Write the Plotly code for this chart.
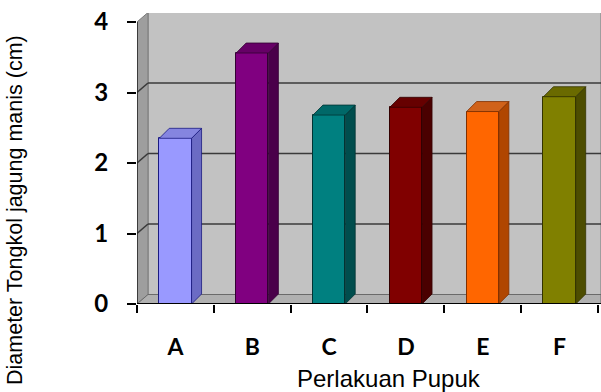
import plotly.graph_objects as go

categories = ["A", "B", "C", "D", "E", "F"]
values = [2.35, 3.56, 2.68, 2.79, 2.73, 2.94]
front_colors = ["#9999FF", "#800080", "#008080", "#800000", "#FF6600", "#808000"]
side_colors = ["#6b6bc4", "#4a004a", "#004d4d", "#4a0000", "#b04600", "#4d4d00"]
top_colors = ["#8585e0", "#660066", "#006868", "#660000", "#d0621a", "#6a6a00"]
edge_colors = ["#1a1a80", "#330033", "#003333", "#330000", "#803000", "#333300"]
y_ticks = [0, 1, 2, 3, 4]

# geometry (data units)
px_x = 76.83  # pixels per category
px_y = 70.5   # pixels per value unit
x_lo = -0.5
x_hi = -0.5 + 464 / px_x
y_hi = 291 / px_y
wdx, wdy = 11 / px_x, 9.5 / px_y      # wall depth
bdx, bdy = 10 / px_x, 10 / px_y       # bar depth
bw = 0.42

xs = list(range(len(categories)))

fig = go.Figure()

# front faces
fig.add_trace(go.Bar(
    x=xs, y=values, width=bw,
    marker=dict(color=front_colors, line=dict(color=edge_colors, width=1)),
    hoverinfo="skip", showlegend=False,
))

# side and top faces
for i, v in enumerate(values):
    r = i + bw / 2
    l = i - bw / 2
    fig.add_trace(go.Scatter(
        x=[r, r + bdx, r + bdx, r, r], y=[0, bdy, v + bdy, v, 0],
        fill="toself", fillcolor=side_colors[i], mode="lines",
        line=dict(color=edge_colors[i], width=0.8), hoverinfo="skip", showlegend=False))
    fig.add_trace(go.Scatter(
        x=[l, l + bdx, r + bdx, r, l], y=[v, v + bdy, v + bdy, v, v],
        fill="toself", fillcolor=top_colors[i], mode="lines",
        line=dict(color=edge_colors[i], width=0.8), hoverinfo="skip", showlegend=False))

# dummy trace for boundary tick axis
fig.add_trace(go.Scatter(x=[], y=[], xaxis="x2", showlegend=False))

shapes = []
# back wall
shapes.append(dict(type="path", layer="below", xref="x", yref="y",
                   path=f"M{x_lo + wdx},{wdy} L{x_hi},{wdy} L{x_hi},{4 + wdy} L{x_lo + wdx},{4 + wdy} Z",
                   fillcolor="#c2c2c2", line=dict(color="#7a7a7a", width=1)))
# left wall
shapes.append(dict(type="path", layer="below", xref="x", yref="y",
                   path=f"M{x_lo},0 L{x_lo + wdx},{wdy} L{x_lo + wdx},{4 + wdy} L{x_lo},4 Z",
                   fillcolor="#9e9e9e", line=dict(color="#7a7a7a", width=1)))
# floor
shapes.append(dict(type="path", layer="below", xref="x", yref="y",
                   path=f"M{x_lo},0 L{x_lo + wdx},{wdy} L{x_hi},{wdy} L{x_hi},0 Z",
                   fillcolor="#b0b0b0", line=dict(color="#6a6a6a", width=1)))
# gridlines
for t in y_ticks[1:-1]:
    shapes.append(dict(type="line", layer="below", xref="x", yref="y",
                       x0=x_lo + wdx, y0=t + wdy, x1=x_hi, y1=t + wdy,
                       line=dict(color="#3a3a3a", width=1.6)))
    shapes.append(dict(type="line", layer="below", xref="x", yref="y",
                       x0=x_lo, y0=t, x1=x_lo + wdx, y1=t + wdy,
                       line=dict(color="#3a3a3a", width=1.6)))
# front axis lines
shapes.append(dict(type="line", layer="above", xref="x", yref="y",
                   x0=x_lo, y0=0, x1=x_lo, y1=4, line=dict(color="#202020", width=1.5)))
shapes.append(dict(type="line", layer="above", xref="x", yref="y",
                   x0=x_lo, y0=0, x1=x_hi, y1=0, line=dict(color="#000000", width=2)))

x_tick_font = dict(family="Lato", size=23, color="#000000", weight="bold")
y_tick_font = dict(family="Lato", size=24, color="#000000", weight="bold")

fig.update_layout(
    width=601, height=392,
    margin=dict(l=137, r=0, t=13, b=88),
    paper_bgcolor="white", plot_bgcolor="white",
    shapes=shapes,
    bargap=0,
    xaxis=dict(range=[x_lo, x_hi], tickvals=xs, ticktext=categories, ticks="",
               showgrid=False, zeroline=False, showline=False,
               tickfont=x_tick_font, ticklabelstandoff=27),
    xaxis2=dict(range=[x_lo, x_hi], overlaying="x", anchor="y", side="bottom",
                tickvals=[x_lo + k for k in range(len(categories) + 1)],
                ticktext=[""] * (len(categories) + 1),
                ticks="outside", ticklen=8, tickwidth=2, tickcolor="#000000",
                showgrid=False, zeroline=False, showline=False),
    yaxis=dict(range=[0, y_hi], tickvals=y_ticks, ticktext=[str(t) for t in y_ticks],
               ticks="outside", ticklen=9, tickwidth=2, tickcolor="#000000",
               showgrid=False, zeroline=False, showline=False,
               tickfont=y_tick_font, ticklabelstandoff=14),
    annotations=[
        dict(text="Diameter Tongkol jagung manis (cm)", xref="paper", yref="paper",
             x=(15 - 137) / 464, y=(304 - 210) / 291, textangle=-90, showarrow=False,
             xanchor="center", yanchor="middle",
             font=dict(family="'Liberation Sans', Arial, sans-serif", size=21.5, color="#000000")),
        dict(text="Perlakuan Pupuk", xref="paper", yref="paper",
             x=(389 - 137) / 464, y=(304 - 378) / 291, showarrow=False,
             xanchor="center", yanchor="middle",
             font=dict(family="'Liberation Sans', Arial, sans-serif", size=24, color="#000000")),
    ],
)

fig.write_html("out.html")
